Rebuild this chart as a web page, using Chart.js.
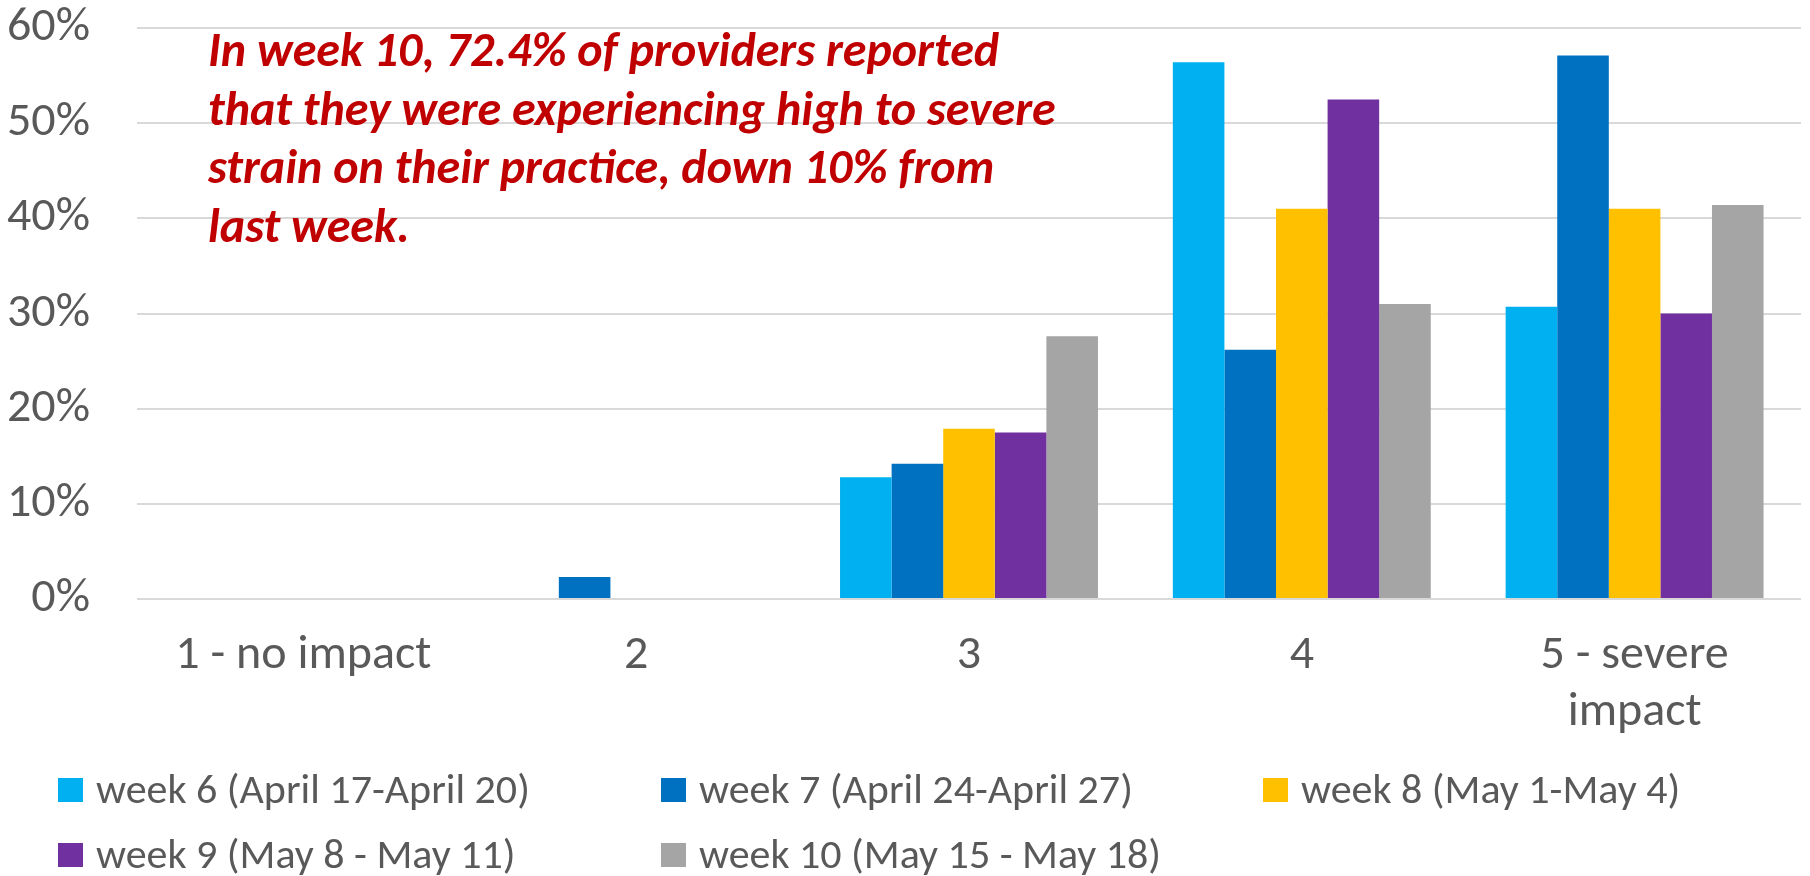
<!DOCTYPE html>
<html>
<head>
<meta charset="utf-8">
<script src="https://cdn.jsdelivr.net/npm/chart.js@4/dist/chart.umd.min.js"></script>
<style>
  html, body { margin: 0; padding: 0; background: #fff; }
  #wrap { position: relative; width: 1810px; height: 876px; }
  #chart { position: absolute; left: 0; top: 0; }
  .legend { position: absolute; left: 0; top: 0; width: 1810px; height: 876px; pointer-events: none;
            font-family: Carlito, Calibri, Lato, sans-serif; font-size: 42px; color: #595959; }
  .legend .item { position: absolute; white-space: nowrap; line-height: 1; }
  .legend .box { position: absolute; width: 25px; height: 24px; }
  .legend .txt { position: absolute; left: 38px; }
</style>
</head>
<body>
<div id="wrap">
  <canvas id="chart" width="1810" height="876"></canvas>
  <div class="legend" id="legend"></div>
</div>
<script>
// impact rating categories
const categories = ['1 - no impact', '2', '3', '4', ['5 - severe', 'impact']];

// share of providers (%) per week
const week6  = [0, 0, 12.8, 56.4, 30.7];
const week7  = [0, 2.3, 14.2, 26.2, 57.1];
const week8  = [0, 0, 17.9, 41.0, 41.0];
const week9  = [0, 0, 17.5, 52.5, 30.0];
const week10 = [0, 0, 27.6, 31.0, 41.4];

const seriesNames = [
  'week 6 (April 17-April 20)',
  'week 7 (April 24-April 27)',
  'week 8 (May 1-May 4)',
  'week 9 (May 8 - May 11)',
  'week 10 (May 15 - May 18)'
];
const seriesColors = ['#00B0F0', '#0070C0', '#FFC000', '#7030A0', '#A5A5A5'];

const noteLines = [
  'In week 10, 72.4% of providers reported',
  'that they were experiencing high to severe',
  'strain on their practice, down 10% from',
  'last week.'
];

const FONT = 'Carlito, Calibri, Lato, sans-serif';
const GREY = '#595959';

const notePlugin = {
  id: 'note',
  afterDraw(chart) {
    const ctx = chart.ctx;
    ctx.save();
    ctx.font = 'italic bold 48px ' + FONT;
    ctx.fillStyle = '#C00000';
    ctx.textBaseline = 'alphabetic';
    noteLines.forEach((line, i) => {
      ctx.fillText(line, 208, 66 + i * 58.7);
    });
    ctx.restore();
  }
};

const values = [week6, week7, week8, week9, week10];

const chart = new Chart(document.getElementById('chart'), {
  type: 'bar',
  data: {
    labels: categories,
    datasets: values.map((v, i) => ({
      label: seriesNames[i],
      data: v,
      backgroundColor: seriesColors[i],
      borderWidth: 0,
      barPercentage: 1,
      categoryPercentage: 0.775
    }))
  },
  options: {
    responsive: false,
    animation: false,
    devicePixelRatio: 1,
    layout: { padding: { left: 0, right: 9, top: 28, bottom: 134 } },
    plugins: {
      legend: { display: false },
      tooltip: { enabled: false }
    },
    scales: {
      x: {
        grid: { display: false, drawTicks: false },
        border: { display: false },
        afterFit(scale) { scale.height = 143; },
        ticks: {
          color: GREY,
          font: { family: FONT, size: 48 },
          padding: 28,
          maxRotation: 0,
          autoSkip: false
        }
      },
      y: {
        min: 0,
        max: 60,
        grid: { color: '#D9D9D9', lineWidth: 2, drawTicks: false },
        border: { display: false },
        afterFit(scale) {
          scale.width = 137;
          // tick padding should not push the plot down
          scale.paddingTop = 0;
          scale.paddingBottom = 0;
        },
        ticks: {
          stepSize: 10,
          color: GREY,
          font: { family: FONT, size: 48 },
          padding: 47,
          callback: v => v + '%'
        }
      }
    }
  },
  plugins: [notePlugin]
});

// legend laid out in fixed columns like the original
const legendEl = document.getElementById('legend');
const colX = [58, 661, 1263];
const rowY = [790, 855];
chart.data.datasets.forEach((ds, i) => {
  const item = document.createElement('div');
  item.className = 'item';
  item.style.left = colX[i % 3] + 'px';
  item.style.top = rowY[Math.floor(i / 3)] + 'px';
  const box = document.createElement('div');
  box.className = 'box';
  box.style.background = ds.backgroundColor;
  box.style.top = '-12px';
  const txt = document.createElement('div');
  txt.className = 'txt';
  txt.style.top = '-22px';
  txt.textContent = ds.label;
  item.appendChild(box);
  item.appendChild(txt);
  legendEl.appendChild(item);
});
</script>
</body>
</html>
